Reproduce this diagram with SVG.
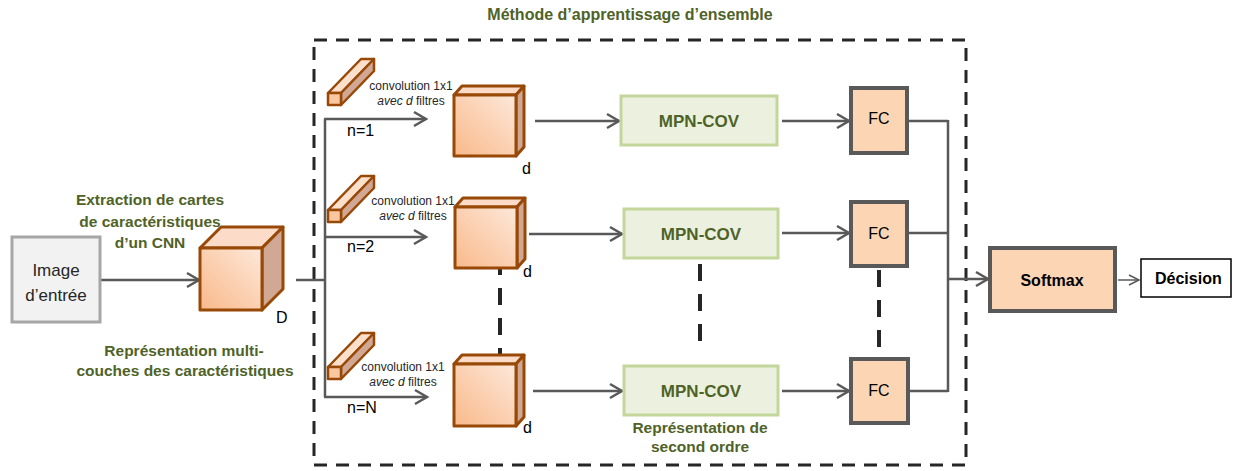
<svg xmlns="http://www.w3.org/2000/svg" width="1233" height="471" viewBox="0 0 1233 471">
<defs>
<linearGradient id="gFront" x1="1" y1="0" x2="0" y2="1">
<stop offset="0" stop-color="#fde8da"/>
<stop offset="1" stop-color="#f9b98a"/>
</linearGradient>
<marker id="arr" markerUnits="userSpaceOnUse" markerWidth="18" markerHeight="18" viewBox="0 0 18 18" refX="15" refY="9" orient="auto">
<path d="M3,2 L15,9 L3,16" fill="none" stroke="#595959" stroke-width="2.5" stroke-linejoin="miter"/>
</marker>
<marker id="arrThin" markerUnits="userSpaceOnUse" markerWidth="14" markerHeight="14" viewBox="0 0 14 14" refX="12" refY="7" orient="auto">
<path d="M2,2 L12,7 L2,12" fill="none" stroke="#595959" stroke-width="1.5"/>
</marker>
</defs>
<style>
.t{font-family:"Liberation Sans",Arial,sans-serif;}
.green{fill:#4f6228;font-weight:bold;}
.conn{stroke:#595959;stroke-width:2.5;fill:none;}
.arrow{marker-end:url(#arr);}
.front{fill:url(#gFront);stroke:#984807;stroke-width:3;stroke-linejoin:round;}
.top{fill:#fcdcc8;stroke:#984807;stroke-width:3;stroke-linejoin:round;}
.side{fill:#d0a894;stroke:#984807;stroke-width:3;stroke-linejoin:round;}
.bfront{fill:#fbc7a0;stroke:#984807;stroke-width:2.5;stroke-linejoin:round;}
.btop{fill:#fde0cc;stroke:#984807;stroke-width:2.5;stroke-linejoin:round;}
.bside{fill:#d0a894;stroke:#984807;stroke-width:2.5;stroke-linejoin:round;}
.mpn{fill:#ebf1de;stroke:#c3d69b;stroke-width:3;}
.fc{fill:#fcd5b4;stroke:#595959;stroke-width:4;}
.dots{stroke:#262626;stroke-width:4;stroke-dasharray:17 13;fill:none;}
.conv{font-size:12px;fill:#262626;}
.lbl{font-size:16px;fill:#000;}
</style>
<rect width="1233" height="471" fill="#ffffff"/>

<g id="ensemble-frame">
<rect x="314" y="40" width="652" height="425" fill="none" stroke="#262626" stroke-width="3" stroke-dasharray="13 9"/>
<text class="t green" x="630" y="20" font-size="16" text-anchor="middle">Méthode d’apprentissage d’ensemble</text>
</g>

<g id="connectors">
<line class="conn arrow" x1="100" y1="280" x2="199" y2="280"/>
<line class="conn" x1="296" y1="280" x2="325" y2="280"/>
<line class="conn" x1="325" y1="119" x2="325" y2="397"/>
<line class="conn arrow" x1="324" y1="119" x2="426" y2="119"/>
<line class="conn arrow" x1="324" y1="237" x2="426" y2="237"/>
<line class="conn arrow" x1="324" y1="397" x2="427" y2="397"/>
<line class="conn arrow" x1="535" y1="121" x2="619" y2="121"/>
<line class="conn arrow" x1="529" y1="234" x2="622" y2="234"/>
<line class="conn arrow" x1="533" y1="391" x2="622" y2="391"/>
<line class="conn arrow" x1="782" y1="121" x2="849" y2="121"/>
<line class="conn arrow" x1="782" y1="233" x2="849" y2="233"/>
<line class="conn arrow" x1="782" y1="391" x2="849" y2="391"/>
<line class="conn" x1="907" y1="121" x2="948" y2="121"/>
<line class="conn" x1="907" y1="233" x2="948" y2="233"/>
<line class="conn" x1="908" y1="391" x2="948" y2="391"/>
<line class="conn" x1="948" y1="120" x2="948" y2="392"/>
<line class="conn arrow" x1="948" y1="279" x2="988" y2="279"/>
<line x1="1118" y1="280" x2="1139" y2="280" stroke="#595959" stroke-width="1.5" marker-end="url(#arrThin)"/>
<line class="dots" x1="500" y1="258" x2="500" y2="362"/>
<line class="dots" x1="700" y1="264" x2="700" y2="341"/>
<line class="dots" x1="879" y1="270" x2="879" y2="347"/>
</g>

<g id="image-input">
<rect x="12" y="237" width="88" height="85" fill="#f2f2f2" stroke="#a6a6a6" stroke-width="3"/>
<text class="t" x="56" y="276" font-size="17" text-anchor="middle" fill="#262626">Image</text>
<text class="t" x="56" y="301" font-size="17" text-anchor="middle" fill="#262626">d’entrée</text>
</g>

<g id="cnn-features">
<text class="t green" font-size="15.5" text-anchor="middle"><tspan x="150" y="205">Extraction de cartes</tspan><tspan x="150" y="227">de caractéristiques</tspan><tspan x="150" y="248">d’un CNN</tspan></text>
<polygon class="top" points="200,248 221,227 283,227 262,248"/>
<polygon class="side" points="262,248 283,227 283,289 262,310"/>
<rect class="front" x="200" y="248" width="62" height="62"/>
<text class="t lbl" x="276" y="323">D</text>
<text class="t green" font-size="15.5" text-anchor="middle"><tspan x="184" y="356">Représentation multi-</tspan><tspan x="185" y="376">couches des caractéristiques</tspan></text>
</g>

<g id="branch-1">
<polygon class="btop" points="328,93 361,59 374,59 341,93"/>
<polygon class="bside" points="341,93 374,59 374,71 341,105"/>
<rect class="bfront" x="328" y="93" width="13" height="12"/>
<text class="t conv" x="411" y="90" text-anchor="middle">convolution 1x1</text>
<text class="t conv" x="411" y="105" text-anchor="middle"><tspan font-style="italic">avec d</tspan> filtres</text>
<text class="t lbl" x="347" y="136">n=1</text>
<polygon class="top" points="454,95 462,86 524,86 516,95"/>
<polygon class="side" points="516,95 524,86 524,147 516,156"/>
<rect class="front" x="454" y="95" width="62" height="61"/>
<text class="t lbl" x="522" y="174">d</text>
</g>

<g id="branch-2">
<polygon class="btop" points="328,210 361,176 374,176 341,210"/>
<polygon class="bside" points="341,210 374,176 374,188 341,222"/>
<rect class="bfront" x="328" y="210" width="13" height="12"/>
<text class="t conv" x="413" y="205" text-anchor="middle">convolution 1x1</text>
<text class="t conv" x="413" y="220" text-anchor="middle"><tspan font-style="italic">avec d</tspan> filtres</text>
<text class="t lbl" x="347" y="252">n=2</text>
<polygon class="top" points="455,207 463,198 525,198 517,207"/>
<polygon class="side" points="517,207 525,198 525,259 517,268"/>
<rect class="front" x="455" y="207" width="62" height="61"/>
<text class="t lbl" x="523" y="277">d</text>
</g>

<g id="branch-n">
<polygon class="btop" points="328,367 361,333 374,333 341,367"/>
<polygon class="bside" points="341,367 374,333 374,345 341,379"/>
<rect class="bfront" x="328" y="367" width="13" height="12"/>
<text class="t conv" x="403" y="371" text-anchor="middle">convolution 1x1</text>
<text class="t conv" x="403" y="386" text-anchor="middle"><tspan font-style="italic">avec d</tspan> filtres</text>
<text class="t lbl" x="347" y="413">n=N</text>
<polygon class="top" points="454,364 462,355 524,355 516,364"/>
<polygon class="side" points="516,364 524,355 524,417 516,426"/>
<rect class="front" x="454" y="364" width="62" height="62"/>
<text class="t lbl" x="523" y="433">d</text>
</g>

<g id="mpn-1">
<rect class="mpn" x="621" y="96" width="156" height="49"/>
<text class="t green" x="699" y="127" font-size="17" text-anchor="middle">MPN-COV</text>
</g>
<g id="mpn-2">
<rect class="mpn" x="624" y="209" width="154" height="49"/>
<text class="t green" x="701" y="240" font-size="17" text-anchor="middle">MPN-COV</text>
</g>
<g id="mpn-n">
<rect class="mpn" x="624" y="366" width="154" height="49"/>
<text class="t green" x="701" y="397" font-size="17" text-anchor="middle">MPN-COV</text>
<text class="t green" font-size="15.5" text-anchor="middle"><tspan x="700" y="433">Représentation de</tspan><tspan x="700" y="452">second ordre</tspan></text>
</g>

<g id="fc-1">
<rect class="fc" x="851" y="88" width="56" height="65"/>
<text class="t" x="879" y="124" font-size="16" text-anchor="middle" fill="#000">FC</text>
</g>
<g id="fc-2">
<rect class="fc" x="851" y="202" width="56" height="64"/>
<text class="t" x="879" y="239" font-size="16" text-anchor="middle" fill="#000">FC</text>
</g>
<g id="fc-n">
<rect class="fc" x="851" y="359" width="57" height="64"/>
<text class="t" x="879" y="396" font-size="16" text-anchor="middle" fill="#000">FC</text>
</g>

<g id="softmax">
<rect class="fc" x="990" y="248" width="125" height="63"/>
<text class="t" x="1052" y="286" font-size="16" font-weight="bold" text-anchor="middle" fill="#000">Softmax</text>
</g>

<g id="decision">
<rect x="1141" y="259" width="90" height="38" fill="#ffffff" stroke="#000" stroke-width="1.5"/>
<text class="t" x="1155" y="284" font-size="16" font-weight="bold" fill="#000">Décision</text>
</g>
</svg>
